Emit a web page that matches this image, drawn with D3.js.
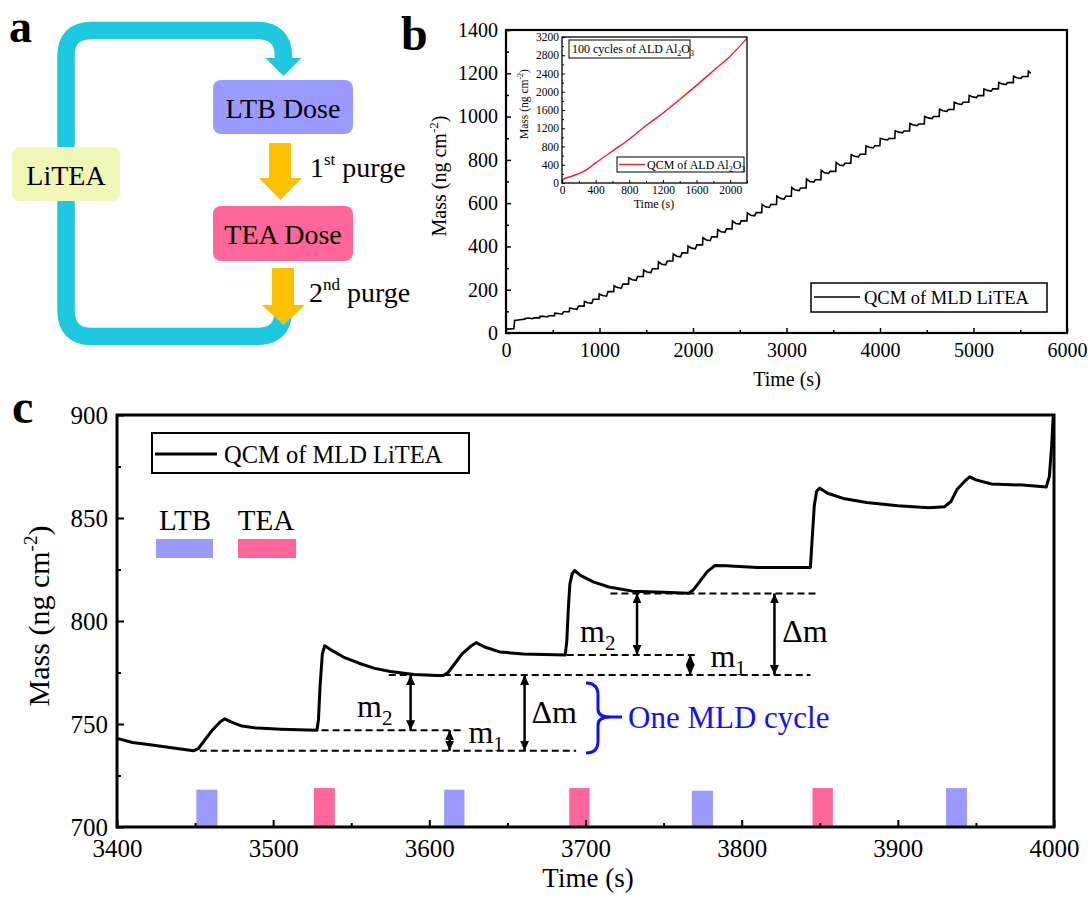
<!DOCTYPE html>
<html>
<head>
<meta charset="utf-8">
<script src="https://cdn.jsdelivr.net/npm/d3@7"></script>
<style>
body { margin: 0; background: #fff; }
svg text { font-family: 'Liberation Serif', 'Times New Roman', serif; fill: #000; }
</style>
</head>
<body>
<svg id="fig" width="1088" height="901"></svg>
<script>
"use strict"

// ---- panel b: full QCM run (cycle levels) ----
const bStartT = [0, 85, 92, 150]
const bStartM = [18, 20, 58, 61]
const bTeaT = [202, 360, 518, 677, 835, 993, 1152, 1310, 1468, 1627, 1785, 1943, 2102, 2260, 2418, 2577, 2735, 2893,
   3052, 3210, 3368, 3527, 3688, 3846, 3999, 4158, 4316, 4474, 4633, 4791, 4950, 5108, 5266, 5425, 5583]
const bLow = [64, 70, 80, 98, 124, 156, 191, 226, 261, 297, 333, 370, 407, 444, 481, 518, 556, 594,
   632, 670, 708, 747, 784, 826, 865, 899, 933, 966, 1000, 1033, 1066, 1097, 1128, 1157, 1185]
const bHigh = [66, 74, 87, 109, 137, 170, 207, 243, 279, 315, 352, 389, 427, 465, 503, 541, 580, 619,
   658, 697, 737, 773, 814, 855, 892, 925, 958, 991, 1024, 1056, 1088, 1118, 1148, 1176, 1200]
const bPeak = [67, 77, 92, 116, 146, 180, 218, 255, 291, 328, 365, 402, 440, 478, 517, 555, 594, 633,
   672, 711, 752, 788, 824, 864, 900, 935, 968, 1001, 1034, 1066, 1098, 1128, 1158, 1186, 1210]

// ---- inset: ALD Al2O3 ----
const iT = [0, 15, 100, 200, 300, 400, 500, 600, 800, 1000, 1200, 1400, 1600, 1800, 2000, 2200]
const iM = [0, 80, 140, 205, 300, 440, 570, 700, 960, 1260, 1530, 1830, 2140, 2460, 2780, 3170]

// ---- panel c: zoom 3400-4000 s ----
const cT = [3400, 3410, 3420, 3435, 3449, 3452, 3456, 3461, 3466, 3469, 3473, 3480, 3490, 3505, 3528,
   3529, 3530, 3531.5, 3533, 3537, 3545, 3555, 3565, 3575, 3590, 3605, 3609,
   3612, 3616, 3621, 3627, 3630, 3635, 3645, 3660, 3687,
   3688, 3689, 3690, 3691.5, 3693, 3697, 3705, 3715, 3730, 3750, 3766,
   3769, 3773, 3778, 3783, 3790, 3810, 3844,
   3845, 3846.5, 3848, 3850, 3855, 3865, 3880, 3900, 3920, 3930,
   3934, 3938, 3943, 3946, 3950, 3960, 3980, 3995, 3997, 3998.5, 3999.5]
const cM = [743, 741, 740, 738.5, 737, 738, 742, 747, 751, 752.5, 751, 749, 748, 747.5, 747,
   752, 768, 784, 788, 786, 782.5, 779.5, 777, 775.5, 774, 773.5, 773.5,
   775, 779, 784, 788, 789.5, 787.5, 785, 784, 783.5,
   790, 806, 818, 823, 824.5, 822, 819, 816.5, 814.5, 814, 813.5,
   815, 819, 824, 827, 826.8, 826, 826,
   838, 856, 863, 864.5, 862, 859.5, 857.5, 856, 855, 855.5,
   858, 864, 868, 870, 868.5, 866.5, 866, 865, 870, 885, 900]

const ltbStart = [3450.8, 3609.5, 3768.1, 3930.8]
const ltbEnd = [3464.3, 3622.5, 3781.6, 3944.3]
const ltbTop = [718.1, 718.1, 717.6, 718.9]
const teaStart = [3526.1, 3689.6, 3845.4]
const teaEnd = [3539.5, 3702.6, 3858.4]
const teaTop = [718.9, 718.9, 718.9]

// annotation guides in data units: [t0, t1, mass]
const guides = [[3453, 3694, 737], [3531, 3622, 747], [3574, 3844, 773.8], [3688, 3771, 783.5], [3716, 3848, 813.4]]
// double arrows: [t, m0, m1]
const arrows = [[3588, 747, 773.8], [3613, 737, 747], [3661, 737, 773.8], [3733, 783.5, 813.4], [3767, 773.8, 783.5], [3821, 773.8, 813.4]]
// labels: [t, m, text, subscript]
const marks = [[3553.7, 753.5, 'm', '2'], [3625, 740.6, 'm', '1'], [3665.4, 750.5, 'Δm', ''],
   [3696.5, 790, 'm', '2'], [3780, 777.8, 'm', '1'], [3826, 790, 'Δm', '']]

const svg = d3.select('#fig')
svg.append('rect').attr('width', 1088).attr('height', 901).attr('fill', '#fff')

const defs = svg.append('defs')
defs.append('marker')
   .attr('id', 'ah')
   .attr('viewBox', '0 0 10 9')
   .attr('refX', 10).attr('refY', 4.5)
   .attr('markerWidth', 10).attr('markerHeight', 9)
   .attr('markerUnits', 'userSpaceOnUse')
   .attr('orient', 'auto-start-reverse')
   .append('path').attr('d', 'M0,0 L10,4.5 L0,9 z').attr('fill', '#000')

// generic inward axes with minor ticks
function frameAxes(g, x, y, o) {
   const [x0, x1] = x.range(), [y0, y1] = y.range()
   g.append('g')
      .attr('transform', `translate(0,${y0})`)
      .call(d3.axisBottom(x).tickValues(o.xMinor).tickSize(-o.minor).tickFormat(''))
   g.append('g')
      .attr('transform', `translate(${x0},0)`)
      .call(d3.axisLeft(y).tickValues(o.yMinor).tickSize(-o.minor).tickFormat(''))
   g.append('g')
      .attr('class', 'xax')
      .attr('transform', `translate(0,${y0})`)
      .call(d3.axisBottom(x).tickValues(o.xMajor).tickSize(-o.major).tickPadding(o.xPad).tickFormat(d3.format('d')))
   g.append('g')
      .attr('class', 'yax')
      .attr('transform', `translate(${x0},0)`)
      .call(d3.axisLeft(y).tickValues(o.yMajor).tickSize(-o.major).tickPadding(o.yPad).tickFormat(d3.format('d')))
   g.selectAll('.domain').remove()
   g.selectAll('.tick line').attr('stroke', '#000').attr('stroke-width', o.tw)
   g.selectAll('.tick text').attr('font-size', o.font).attr('font-family', "'Liberation Serif', serif").attr('fill', '#000')
   g.append('rect')
      .attr('x', x0).attr('y', y1).attr('width', x1 - x0).attr('height', y0 - y1)
      .attr('fill', 'none').attr('stroke', '#000').attr('stroke-width', o.fw)
}

// ================= panel a =================
const pa = svg.append('g')
const loopC = '#1ec8e0'
pa.append('path')
   .attr('d', 'M283.5,300 L283.5,310 Q283.5,336.5 257,336.5 L92,336.5 Q66,336.5 66,310 L66,56 Q66,30.5 92,30.5 L257,30.5 Q283.5,30.5 283.5,57 L283.5,60')
   .attr('fill', 'none').attr('stroke', loopC).attr('stroke-width', 17.5)
pa.append('path').attr('d', 'M265.5,58 L301.5,58 L283.5,76 z').attr('fill', loopC)

pa.append('rect').attr('x', 12).attr('y', 147).attr('width', 108).attr('height', 54).attr('rx', 8).attr('fill', '#f0f7b6')
pa.append('text').attr('x', 66).attr('y', 185).attr('text-anchor', 'middle').attr('font-size', 28).text('LiTEA')

pa.append('rect').attr('x', 213).attr('y', 80).attr('width', 140).attr('height', 54).attr('rx', 8).attr('fill', '#9b9bff')
pa.append('text').attr('x', 283).attr('y', 118).attr('text-anchor', 'middle').attr('font-size', 28).text('LTB Dose')

pa.append('rect').attr('x', 213).attr('y', 206).attr('width', 140).attr('height', 55).attr('rx', 8).attr('fill', '#ff6699')
pa.append('text').attr('x', 283).attr('y', 244).attr('text-anchor', 'middle').attr('font-size', 28).text('TEA Dose')

const yel = '#ffc000'
pa.append('path').attr('d', 'M269,143 L291,143 L291,178 L302,178 L280.5,200 L259,178 L269,178 z').attr('fill', yel)
pa.append('path').attr('d', 'M272,268 L294,268 L294,305 L305,305 L283.5,325 L262,305 L272,305 z').attr('fill', yel)

pa.append('text').attr('x', 310).attr('y', 177).attr('font-size', 28)
   .html('1<tspan font-size="17" dy="-12">st</tspan><tspan dy="12"> purge</tspan>')
pa.append('text').attr('x', 309).attr('y', 302).attr('font-size', 28)
   .html('2<tspan font-size="17" dy="-12">nd</tspan><tspan dy="12"> purge</tspan>')

// panel letters
svg.append('text').attr('x', 9).attr('y', 42).attr('font-size', 46).attr('font-weight', 'bold').text('a')
svg.append('text').attr('x', 401).attr('y', 50).attr('font-size', 48).attr('font-weight', 'bold').text('b')
svg.append('text').attr('x', 12).attr('y', 423).attr('font-size', 48).attr('font-weight', 'bold').text('c')

// ================= panel b =================
const pb = svg.append('g')
const xB = d3.scaleLinear([0, 6000], [506, 1067])
const yB = d3.scaleLinear([0, 1400], [333, 30])

const bPts = bStartT.map((t, i) => [t, bStartM[i]])
bTeaT.forEach((t, i) => {
   bPts.push([t, bLow[i]], [t + 4, bPeak[i]])
   if (i < bTeaT.length - 1) {
      bPts.push([t + 40, bHigh[i] + 3], [t + 82, bHigh[i]], [t + 98, bLow[i + 1]])
   } else {
      bPts.push([t + 30, bHigh[i]])
   }
})
pb.append('path')
   .datum(bPts)
   .attr('d', d3.line().x(d => xB(d[0])).y(d => yB(d[1])))
   .attr('fill', 'none').attr('stroke', '#000').attr('stroke-width', 1.6)

frameAxes(pb, xB, yB, {
   xMajor: d3.range(0, 6001, 1000), xMinor: d3.range(500, 6000, 1000),
   yMajor: d3.range(0, 1401, 200), yMinor: d3.range(100, 1400, 200),
   major: 5, minor: 3, xPad: 10, yPad: 8, font: 20, tw: 1.5, fw: 2.2
})
pb.append('text').attr('x', 787).attr('y', 386).attr('text-anchor', 'middle').attr('font-size', 20).text('Time (s)')
pb.append('text').attr('transform', 'translate(446,176) rotate(-90)').attr('text-anchor', 'middle').attr('font-size', 20)
   .html('Mass (ng cm<tspan font-size="13" dy="-8">-2</tspan><tspan dy="8">)</tspan>')

// legend b
pb.append('rect').attr('x', 811).attr('y', 283).attr('width', 236).attr('height', 29).attr('fill', '#fff').attr('stroke', '#000').attr('stroke-width', 1.5)
pb.append('line').attr('x1', 814).attr('x2', 860).attr('y1', 297).attr('y2', 297).attr('stroke', '#000').attr('stroke-width', 1.4)
pb.append('text').attr('x', 864).attr('y', 304).attr('font-size', 18.5).text('QCM of MLD LiTEA')

// inset
const pi = svg.append('g')
const xI = d3.scaleLinear([0, 2200], [562, 747])
const yI = d3.scaleLinear([0, 3200], [183, 37])
pi.append('rect').attr('x', 562).attr('y', 37).attr('width', 185).attr('height', 146).attr('fill', '#fff')
pi.append('path')
   .datum(iT.map((t, i) => [t, iM[i]]))
   .attr('d', d3.line().x(d => xI(d[0])).y(d => yI(d[1])).curve(d3.curveMonotoneX))
   .attr('fill', 'none').attr('stroke', '#ff1a1a').attr('stroke-width', 1.4)
frameAxes(pi, xI, yI, {
   xMajor: d3.range(0, 2001, 400), xMinor: d3.range(200, 2201, 400),
   yMajor: d3.range(0, 3201, 400), yMinor: d3.range(200, 3200, 400),
   major: 3, minor: 2, xPad: 3, yPad: 3, font: 11.5, tw: 1, fw: 1.3
})
pi.append('text').attr('x', 654).attr('y', 208).attr('text-anchor', 'middle').attr('font-size', 12).text('Time (s)')
pi.append('text').attr('transform', 'translate(528,104) rotate(-90)').attr('text-anchor', 'middle').attr('font-size', 11.5)
   .html('Mass (ng cm<tspan font-size="8" dy="-5">-2</tspan><tspan dy="5">)</tspan>')
pi.append('rect').attr('x', 569).attr('y', 40).attr('width', 121).attr('height', 18).attr('fill', '#fff').attr('stroke', '#000').attr('stroke-width', 1)
pi.append('text').attr('x', 572).attr('y', 53).attr('font-size', 12)
   .html('100 cycles of ALD Al<tspan font-size="8" dy="3">2</tspan><tspan dy="-3">O</tspan><tspan font-size="8" dy="3">3</tspan>')
pi.append('rect').attr('x', 617).attr('y', 157).attr('width', 127).attr('height', 15).attr('fill', '#fff').attr('stroke', '#000').attr('stroke-width', 1)
pi.append('line').attr('x1', 619).attr('x2', 645).attr('y1', 164.5).attr('y2', 164.5).attr('stroke', '#ff1a1a').attr('stroke-width', 1.4)
pi.append('text').attr('x', 647).attr('y', 169).attr('font-size', 12)
   .html('QCM of ALD Al<tspan font-size="8" dy="3">2</tspan><tspan dy="-3">O</tspan><tspan font-size="8" dy="3">3</tspan>')

// ================= panel c =================
const pc = svg.append('g')
const xC = d3.scaleLinear([3400, 4000], [117, 1054])
const yC = d3.scaleLinear([700, 900], [827, 415])

pc.selectAll('rect.ltb').data(ltbStart).enter().append('rect')
   .attr('class', 'ltb')
   .attr('x', (d, i) => xC(d)).attr('width', (d, i) => xC(ltbEnd[i]) - xC(d))
   .attr('y', (d, i) => yC(ltbTop[i])).attr('height', (d, i) => yC(700) - yC(ltbTop[i]))
   .attr('fill', '#9b9bff')
pc.selectAll('rect.tea').data(teaStart).enter().append('rect')
   .attr('class', 'tea')
   .attr('x', (d, i) => xC(d)).attr('width', (d, i) => xC(teaEnd[i]) - xC(d))
   .attr('y', (d, i) => yC(teaTop[i])).attr('height', (d, i) => yC(700) - yC(teaTop[i]))
   .attr('fill', '#ff6699')

// guides and arrows
pc.selectAll('line.guide').data(guides).enter().append('line')
   .attr('x1', d => xC(d[0])).attr('x2', d => xC(d[1]))
   .attr('y1', d => yC(d[2])).attr('y2', d => yC(d[2]))
   .attr('stroke', '#000').attr('stroke-width', 2).attr('stroke-dasharray', '7,4')
pc.selectAll('line.arr').data(arrows).enter().append('line')
   .attr('x1', d => xC(d[0])).attr('x2', d => xC(d[0]))
   .attr('y1', d => yC(d[1])).attr('y2', d => yC(d[2]))
   .attr('stroke', '#000').attr('stroke-width', 2.5)
   .attr('marker-start', 'url(#ah)').attr('marker-end', 'url(#ah)')

pc.append('path')
   .datum(cT.map((t, i) => [t, cM[i]]))
   .attr('d', d3.line().x(d => xC(d[0])).y(d => yC(d[1])))
   .attr('fill', 'none').attr('stroke', '#000').attr('stroke-width', 3).attr('stroke-linejoin', 'round')

marks.forEach(d => {
   const t = pc.append('text').attr('x', xC(d[0])).attr('y', yC(d[1])).attr('font-size', 32)
   if (d[3]) t.html(`${d[2]}<tspan font-size="21" dy="8">${d[3]}</tspan>`)
   else t.text(d[2])
})

// brace + label
const bx = 586, by0 = yC(769.9), bym = yC(753.4), by1 = yC(735.9)
pc.append('path')
   .attr('d', `M${bx},${by0} Q${bx + 12},${by0} ${bx + 12},${by0 + 12} L${bx + 12},${bym - 8} Q${bx + 12},${bym} ${bx + 24},${bym} L${bx + 36},${bym} M${bx + 24},${bym} Q${bx + 12},${bym} ${bx + 12},${bym + 8} L${bx + 12},${by1 - 12} Q${bx + 12},${by1} ${bx},${by1}`)
   .attr('fill', 'none').attr('stroke', '#1010ff').attr('stroke-width', 3)
pc.append('text').attr('x', 628).attr('y', yC(748)).attr('font-size', 31).style('fill', '#1010ff').text('One MLD cycle')

frameAxes(pc, xC, yC, {
   xMajor: d3.range(3400, 4001, 100), xMinor: d3.range(3450, 4000, 100),
   yMajor: d3.range(700, 901, 50), yMinor: d3.range(725, 900, 50),
   major: 7, minor: 4, xPad: 12, yPad: 9, font: 25, tw: 2, fw: 3
})
pc.append('text').attr('x', 588).attr('y', 887).attr('text-anchor', 'middle').attr('font-size', 27).text('Time (s)')
pc.append('text').attr('transform', 'translate(49,616) rotate(-90)').attr('text-anchor', 'middle').attr('font-size', 30)
   .html('Mass (ng cm<tspan font-size="19" dy="-12">-2</tspan><tspan dy="12">)</tspan>')

// legend c
pc.append('rect').attr('x', 152).attr('y', 433).attr('width', 317).attr('height', 40).attr('fill', '#fff').attr('stroke', '#000').attr('stroke-width', 2)
pc.append('line').attr('x1', 155).attr('x2', 217).attr('y1', 454).attr('y2', 454).attr('stroke', '#000').attr('stroke-width', 3)
pc.append('text').attr('x', 224).attr('y', 463).attr('font-size', 24.5).text('QCM of MLD LiTEA')
pc.append('text').attr('x', 185).attr('y', 530).attr('text-anchor', 'middle').attr('font-size', 29).text('LTB')
pc.append('rect').attr('x', 156).attr('y', 539).attr('width', 57).attr('height', 19).attr('fill', '#9b9bff')
pc.append('text').attr('x', 266).attr('y', 530).attr('text-anchor', 'middle').attr('font-size', 29).text('TEA')
pc.append('rect').attr('x', 238).attr('y', 539).attr('width', 58).attr('height', 19).attr('fill', '#ff6699')
</script>
</body>
</html>
